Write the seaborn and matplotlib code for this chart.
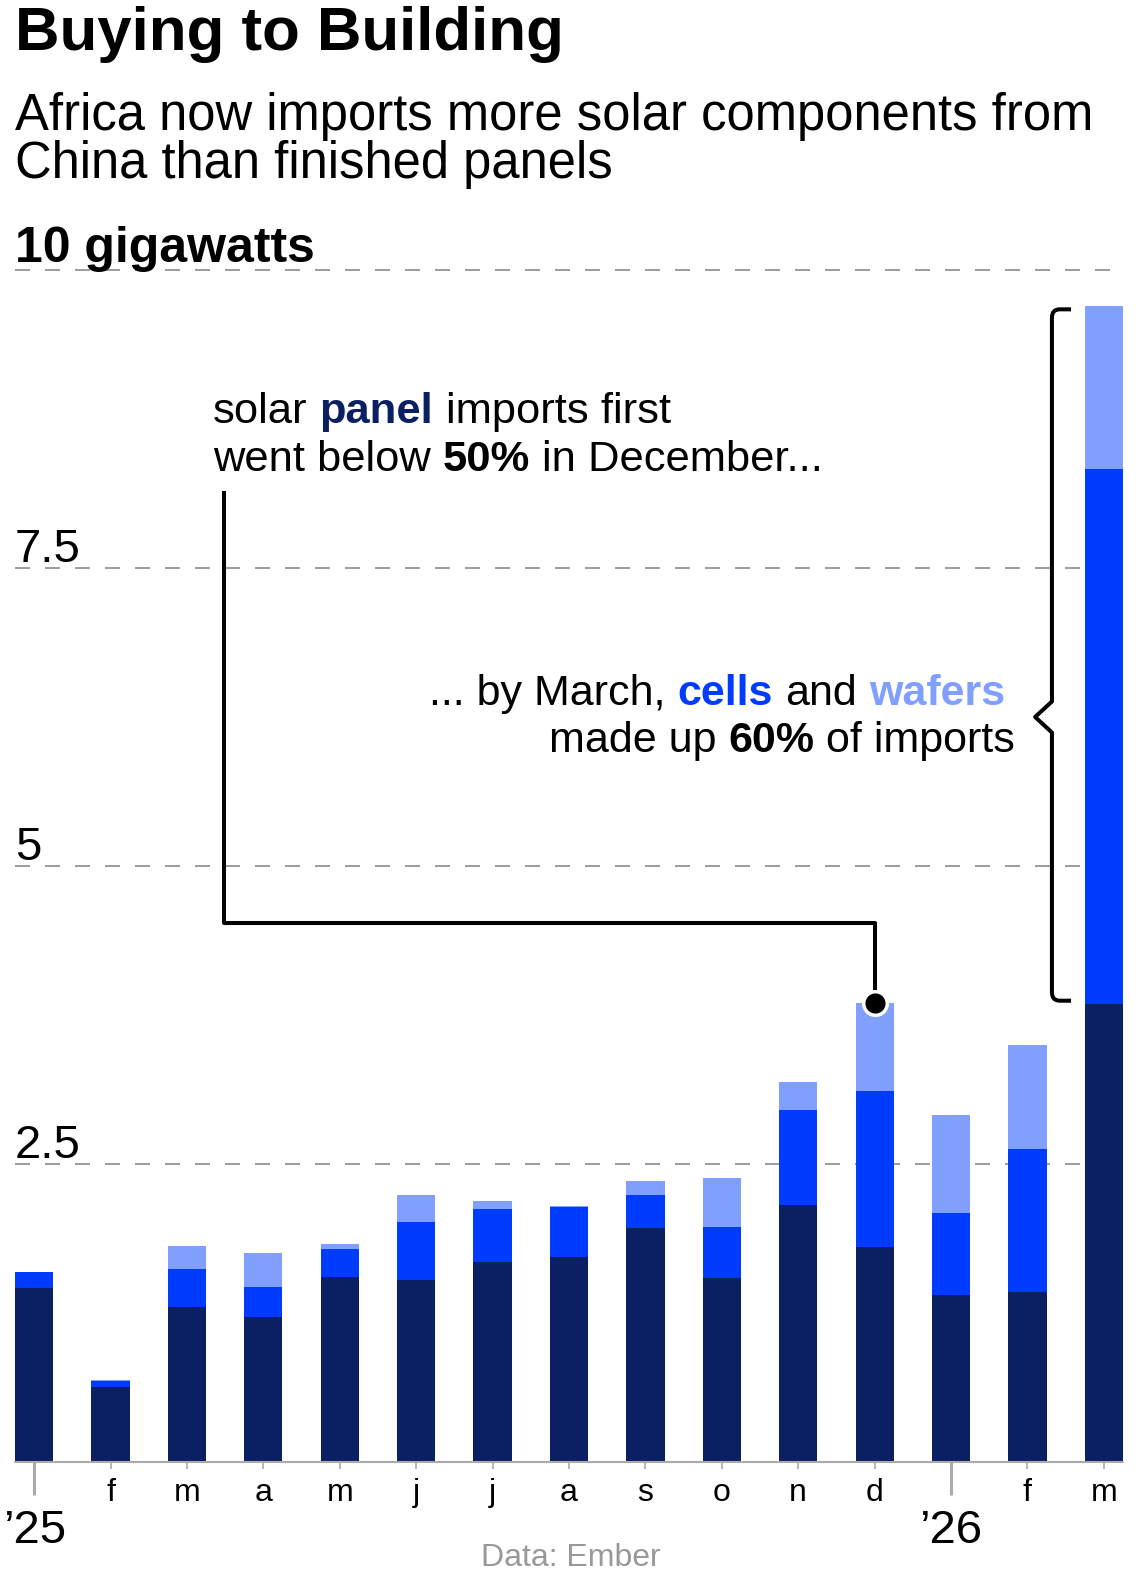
import numpy as np
import pandas as pd
import matplotlib.pyplot as plt
from matplotlib.path import Path
from matplotlib.patches import PathPatch
import seaborn as sns

# monthly imports from China, gigawatts
months = ["2025-01", "2025-02", "2025-03", "2025-04", "2025-05", "2025-06", "2025-07",
          "2025-08", "2025-09", "2025-10", "2025-11", "2025-12", "2026-01", "2026-02", "2026-03"]
month_labels = ["", "f", "m", "a", "m", "j", "j", "a", "s", "o", "n", "d", "", "f", "m"]
year_labels = ["\u201925", "\u201926"]
panels = [1.46, 0.63, 1.30, 1.22, 1.55, 1.53, 1.68, 1.72, 1.96, 1.54, 2.16, 1.80, 1.40, 1.43, 3.84]
cells = [0.13, 0.05, 0.32, 0.25, 0.24, 0.48, 0.44, 0.42, 0.28, 0.43, 0.79, 1.31, 0.69, 1.20, 4.49]
wafers = [0.00, 0.01, 0.19, 0.28, 0.04, 0.23, 0.07, 0.01, 0.12, 0.41, 0.24, 0.74, 0.82, 0.87, 1.37]

NAVY = "#0b2063"
BLUE = "#003cff"
LIGHT = "#809fff"
GRID = "#9e9e9e"
AXIS = "#aaaaaa"

sns.set_style("white")
plt.rcParams["font.family"] = ["Liberation Sans", "DejaVu Sans"]
plt.rcParams["text.color"] = "black"
plt.rcParams["xtick.labelcolor"] = "black"

df = pd.DataFrame({"month": months, "panel": panels, "cells": cells, "wafers": wafers})
df["cells_top"] = df["panel"] + df["cells"]
df["total"] = df["cells_top"] + df["wafers"]

W, H = 1141, 1571
fig = plt.figure(figsize=(W / 100, H / 100), dpi=100)
y0_px, gw_px, ytop = 1462, 119.2, 10.3
ax = fig.add_axes([15 / W, (H - y0_px) / H, 1108 / W, ytop * gw_px / H])

for col, c in [("total", LIGHT), ("cells_top", BLUE), ("panel", NAVY)]:
    sns.barplot(data=df, x="month", y=col, color=c, width=0.5, saturation=1,
                linewidth=0, errorbar=None, ax=ax, zorder=3)

ax.set_xlim(-0.25, len(months) - 0.75)
ax.set_ylim(0, ytop)
sns.despine(ax=ax, left=True, bottom=True)
ax.set_xlabel("")
ax.set_ylabel("")

# dashed gridlines
ax.set_yticks([2.5, 5, 7.5, 10])
ax.set_yticklabels([])
ax.tick_params(axis="y", length=0)
ax.grid(axis="y", color=GRID, lw=1.44, linestyle=(0, (7.5, 7.5)))
ax.grid(axis="x", visible=False)
ax.set_axisbelow(True)

for v in [2.5, 5, 7.5]:
    ax.annotate(f"{v:g}", xy=(0, v), xycoords=ax.get_yaxis_transform(), xytext=(0, 4.3),
                textcoords="offset points", va="baseline", ha="left", fontsize=34)
ax.annotate("10 gigawatts", xy=(0, 10), xycoords=ax.get_yaxis_transform(), xytext=(0, 5.8),
            textcoords="offset points", va="baseline", ha="left", fontsize=36, fontweight="bold")

# x axis: years on major ticks, months on minor
year_idx = [i for i, l in enumerate(month_labels) if l == ""]
month_idx = [i for i, l in enumerate(month_labels) if l != ""]
ax.set_xticks(year_idx, labels=year_labels)
ax.set_xticks(month_idx, labels=[month_labels[i] for i in month_idx], minor=True)
ax.tick_params(axis="x", which="major", bottom=True, direction="out", length=24, width=2.2,
               color=AXIS, pad=10, labelsize=34)
ax.tick_params(axis="x", which="minor", bottom=True, direction="out", length=5, width=1.2,
               color=AXIS, pad=6.5, labelsize=23)
ax.axhline(0, color=AXIS, lw=1.5, zorder=5, clip_on=False)

# leader to December
dec = months.index("2025-12")
dec_top = df["total"][dec]
lead_x, lead_top, lead_elbow = 2.48, 8.15, 4.52
ax.plot([lead_x, lead_x, dec, dec], [lead_top, lead_elbow, lead_elbow, dec_top],
        color="black", lw=2.9, solid_joinstyle="round", solid_capstyle="butt", zorder=6, clip_on=False)
ax.plot(dec, dec_top, "o", ms=17, mfc="black", mec="white", mew=2.5, zorder=7, clip_on=False)

# bracket next to March
mar = months.index("2026-03")
yt = df["total"][mar] - 0.03
yb = df["panel"][mar] + 0.03
ym = 6.25
xb, xt, xp = mar - 0.68, mar - 0.43, mar - 0.90
rx, ry, dy = 0.1, 0.07, 0.13
verts = [(xt, yt), (xb + rx, yt), (xb, yt), (xb, yt - ry), (xb, ym + dy), (xp, ym),
         (xb, ym - dy), (xb, yb + ry), (xb, yb), (xb + rx, yb), (xt, yb)]
codes = [Path.MOVETO, Path.LINETO, Path.CURVE3, Path.CURVE3, Path.LINETO, Path.LINETO,
         Path.LINETO, Path.LINETO, Path.CURVE3, Path.CURVE3, Path.LINETO]
ax.add_patch(PathPatch(Path(verts, codes), fill=False, lw=2.9, ec="black",
                       joinstyle="round", capstyle="butt", zorder=6, clip_on=False))

# texts
renderer = fig.canvas.get_renderer()


def text_width(s, size, weight):
    t = fig.text(0, 0, s, fontsize=size, fontweight=weight)
    w = t.get_window_extent(renderer).width
    t.remove()
    return w


def rich_line(x, y, parts, size, ha="left"):
    space = text_width("x x", size, "normal") - text_width("xx", size, "normal")
    widths = [text_width(s, size, wt) for s, c, wt in parts]
    total = sum(widths) + space * (len(parts) - 1)
    xp_ = x - total if ha == "right" else x
    for (s, c, wt), w in zip(parts, widths):
        fig.text(xp_ / W, 1 - y / H, s, color=c, fontsize=size, fontweight=wt, va="baseline")
        xp_ += w + space


fig.text(15 / W, 1 - 50 / H, "Buying to Building", fontsize=44.5, fontweight="bold", va="baseline")
fig.text(15 / W, 1 - 130 / H, "Africa now imports more solar components from", fontsize=36.5, va="baseline")
fig.text(15 / W, 1 - 178 / H, "China than finished panels", fontsize=36.5, va="baseline")

rich_line(213, 423, [("solar", "black", "normal"), ("panel", NAVY, "bold"),
                     ("imports first", "black", "normal")], 31.3)
rich_line(213, 471, [("went below", "black", "normal"), ("50%", "black", "bold"),
                     ("in December...", "black", "normal")], 31.3)
rich_line(1005, 705, [("... by March,", "black", "normal"), ("cells", BLUE, "bold"),
                      ("and", "black", "normal"), ("wafers", LIGHT, "bold")], 31, ha="right")
rich_line(1015, 752, [("made up", "black", "normal"), ("60%", "black", "bold"),
                      ("of imports", "black", "normal")], 31, ha="right")

fig.text(0.5, 1 - 1566 / H, "Data: Ember", fontsize=23, color="#999999", ha="center", va="baseline")

fig.savefig("out.png", dpi=100)
